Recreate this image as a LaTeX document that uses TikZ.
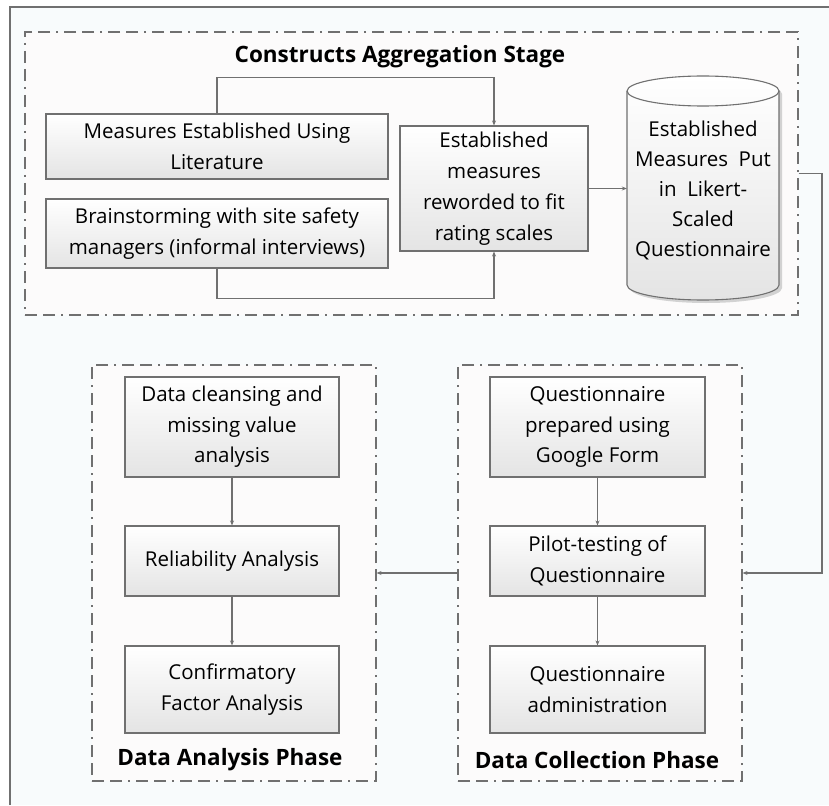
\documentclass[tikz,border=0pt]{standalone}
\usepackage{fontspec}
\setmainfont{Open Sans}
\usetikzlibrary{arrows.meta,positioning}
\definecolor{framebg}{RGB}{248,251,252}
\definecolor{stagebg}{RGB}{252,251,251}
\definecolor{edgegray}{RGB}{112,112,112}
\definecolor{boxbot}{RGB}{228,228,228}
\tikzset{
  stepbox/.style={draw=edgegray, line width=1.1pt, top color=white, bottom color=boxbot,
    align=center, inner sep=1pt, font=\fontsize{20.5}{30.5}\selectfont},
  stagebox/.style={draw=edgegray, line width=1.1pt, fill=stagebg,
    dash pattern=on 12pt off 6pt on 12pt off 6pt on 2pt off 6pt},
  arr/.style={draw=edgegray, line width=1.1pt, -{Stealth[length=5pt,width=4pt]}},
  title/.style={font=\fontsize{22.5}{26}\selectfont\bfseries}
}
\begin{document}
\begin{tikzpicture}[x=1pt,y=-1pt]
\useasboundingbox (0,0) rectangle (829,805);
% outer frame (only left and top edges visible)
\fill[framebg] (10,7) rectangle (829,805);
\draw[edgegray, line width=1.3pt] (10,805) -- (10,7) -- (829,7);

% stage boxes
\node[stagebox, minimum width=773pt, minimum height=283pt] (stage) at (411.5,173.5) {};
\node[stagebox, minimum width=284pt, minimum height=416pt] (anbox) at (234,573) {};
\node[stagebox, minimum width=284pt, minimum height=416pt] (colbox) at (600,573) {};

\node[title] (t1) at (400,57) {Constructs Aggregation Stage};
\node[title] (t2) at (230,760) {Data Analysis Phase};
\node[title] (t3) at (597,760) {Data Collection Phase};

% construct stage
\node[stepbox, minimum width=342pt, minimum height=65pt] (b1) at (217,146.5) {Measures Established Using\\Literature};
\node[stepbox, minimum width=342pt, minimum height=69pt] (b2) at (217,233.5) {Brainstorming with site safety\\managers (informal interviews)};
\node[stepbox, minimum width=188pt, minimum height=125pt, font=\fontsize{20.5}{31}\selectfont] (b3) at (494,188.5) {Established\\measures\\reworded to fit\\rating scales};

% cylinder
\fill[gray!35] (630,94) -- (630,288) arc[start angle=180, end angle=360, x radius=76pt, y radius=15pt] -- (782,94) arc[start angle=0, end angle=180, x radius=76pt, y radius=15pt] -- cycle;
\shade[top color=white, bottom color=boxbot, draw=edgegray, line width=1.1pt]
  (627,91) -- (627,285) arc[start angle=180, end angle=360, x radius=76pt, y radius=15pt] -- (779,91) arc[start angle=0, end angle=180, x radius=76pt, y radius=15pt] -- cycle;
\draw[edgegray, line width=1.1pt] (627,91) arc[start angle=180, end angle=360, x radius=76pt, y radius=15pt];
\node[align=center, inner sep=0pt, minimum width=152pt, minimum height=224pt, font=\fontsize{20.5}{30}\selectfont] (cyl) at (703,190) {Established\\Measures~ Put\\in~ Likert-\\Scaled\\Questionnaire};

% analysis phase
\node[stepbox, minimum width=214pt, minimum height=100pt] (a1) at (232,427) {Data cleansing and\\missing value\\analysis};
\node[stepbox, minimum width=214pt, minimum height=70pt] (a2) at (232,561) {Reliability Analysis};
\node[stepbox, minimum width=214pt, minimum height=87pt] (a3) at (232,689.5) {Confirmatory\\Factor Analysis};

% collection phase
\node[stepbox, minimum width=215pt, minimum height=100pt] (c1) at (597.5,427) {Questionnaire\\prepared using\\Google Form};
\node[stepbox, minimum width=215pt, minimum height=70pt] (c2) at (597.5,561) {Pilot-testing of\\Questionnaire};
\node[stepbox, minimum width=215pt, minimum height=87pt] (c3) at (597.5,689.5) {Questionnaire\\administration};

% connectors
\draw[arr] (b1.north) -- ++(0,-36) -| (b3.north);
\draw[arr] (b2.south) -- ++(0,30) -| (b3.south);
\draw[arr] (b3.east) -- (b3.east -| cyl.west);
\coordinate (rturn) at (822,173.5);
\draw[arr] (stage.east) -- (rturn) |- (colbox.east);
\draw[arr] (colbox.west) -- (anbox.east);
\draw[arr] (a1) -- (a2);
\draw[arr] (a2) -- (a3);
\draw[arr] (c1) -- (c2);
\draw[arr] (c2) -- (c3);
\end{tikzpicture}
\end{document}
